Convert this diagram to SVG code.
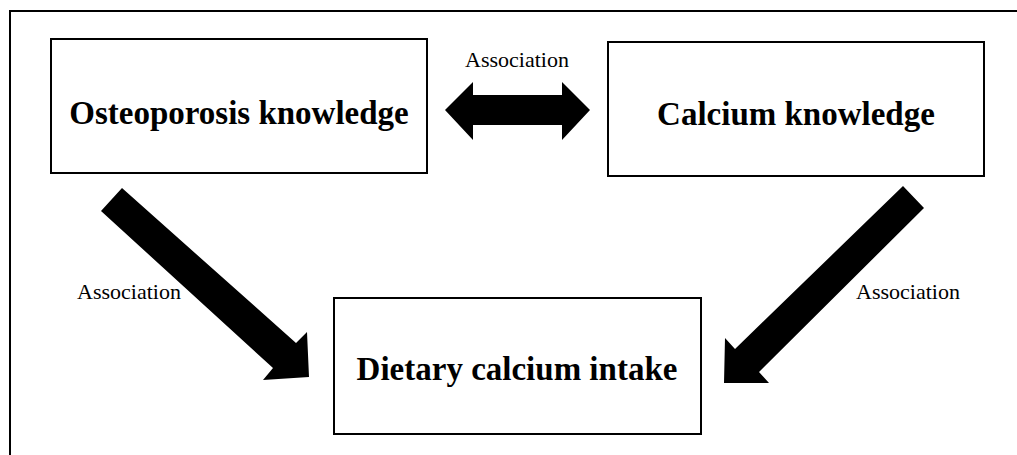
<svg xmlns="http://www.w3.org/2000/svg" width="1017" height="455" viewBox="0 0 1017 455">
<style>
.box{fill:#fff;stroke:#000;stroke-width:2}
.title{font-family:"Liberation Serif",serif;font-weight:bold;font-size:33px;text-anchor:middle;fill:#000}
.lbl{font-family:"Liberation Serif",serif;font-size:22px;text-anchor:middle;fill:#000}
.arr{fill:#000}
</style>
<rect x="0" y="0" width="1017" height="455" fill="#fff"/>
<rect x="10" y="11" width="1030" height="470" fill="none" stroke="#000" stroke-width="2"/>
<g id="node-osteoporosis">
<rect class="box" x="51" y="39" width="376" height="134"/>
<text class="title" x="239" y="124">Osteoporosis knowledge</text>
</g>
<g id="node-calcium">
<rect class="box" x="608" y="42" width="376" height="134"/>
<text class="title" x="796" y="125">Calcium knowledge</text>
</g>
<g id="node-dietary">
<rect class="box" x="334" y="298" width="367" height="136"/>
<text class="title" x="517" y="380">Dietary calcium intake</text>
</g>
<g id="connectors">
<polygon class="arr" points="445,110 473,82 473,95 562,95 562,82 590,110 562,140 562,125 473,125 473,140"/>
<text class="lbl" x="517" y="67">Association</text>
<polygon class="arr" points="122,188 296,343 307,332 309,377 263,380 273,368 101,211"/>
<text class="lbl" x="129" y="299">Association</text>
<polygon class="arr" points="903,186 924,208 759,372 769,383 724,383 725,338 735,349"/>
<text class="lbl" x="908" y="299">Association</text>
</g>
</svg>
